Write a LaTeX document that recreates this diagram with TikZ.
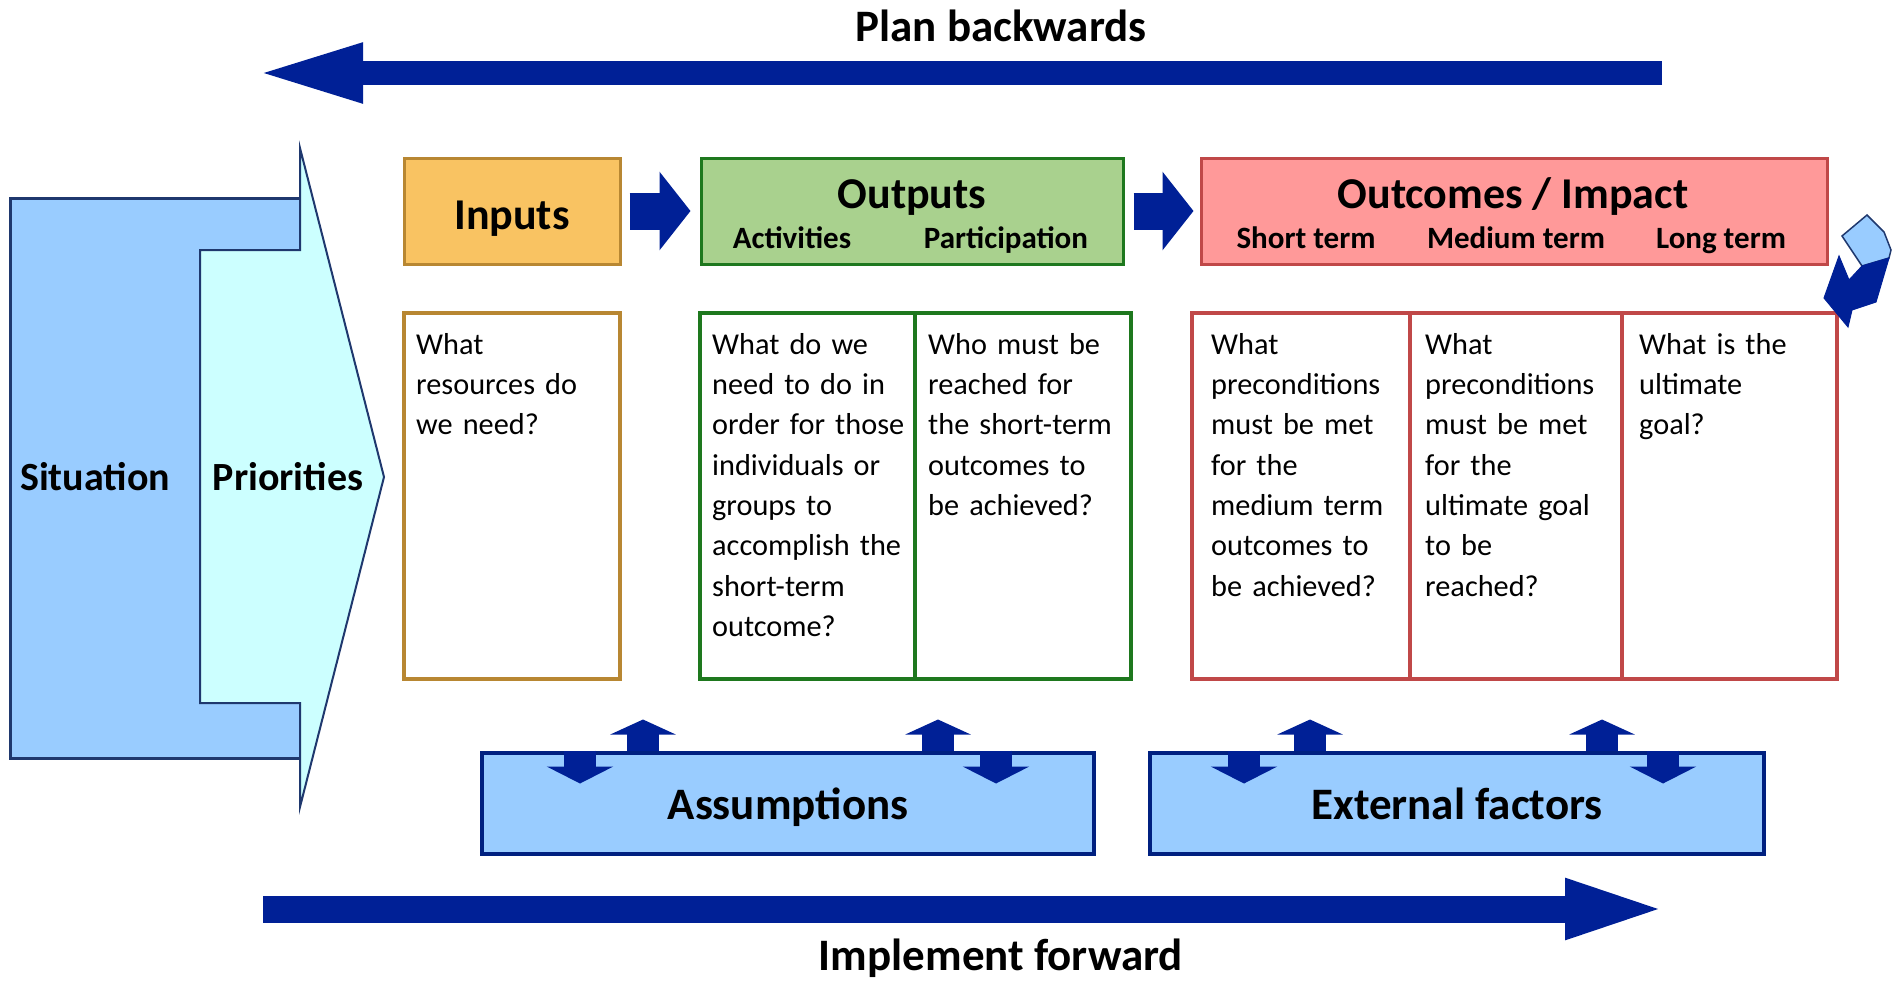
\documentclass[tikz,border=0pt]{standalone}
\usepackage{fontspec}
\setmainfont{Carlito}
\usepackage{xcolor}
\usetikzlibrary{arrows.meta}
\definecolor{situation}{RGB}{153,204,255}
\definecolor{priorities}{RGB}{204,255,255}
\definecolor{framedark}{RGB}{31,56,110}
\definecolor{darkarrow}{RGB}{0,32,150}
\definecolor{inputfill}{RGB}{249,195,98}
\definecolor{inputline}{RGB}{184,135,50}
\definecolor{outputfill}{RGB}{169,209,142}
\definecolor{outputline}{RGB}{30,120,30}
\definecolor{outcomefill}{RGB}{255,153,153}
\definecolor{outcomeline}{RGB}{192,72,72}
\definecolor{context}{RGB}{153,204,255}
\definecolor{contextline}{RGB}{0,32,128}
\newcommand{\HeadFont}{\fontsize{44}{50}\selectfont\bfseries}
\newcommand{\BigFont}{\fontsize{45}{50}\selectfont\bfseries}
\newcommand{\SubFont}{\fontsize{31}{34}\selectfont\bfseries}
\newcommand{\QFont}{\fontsize{30.3}{40.3}\selectfont}
\tikzstyle{header}=[draw, line width=3pt, minimum height=106pt, inner sep=0pt]
\tikzstyle{question}=[draw, line width=4pt, minimum height=366pt, inner sep=0pt]
\tikzstyle{qtext}=[anchor=north west, align=left, inner sep=0pt, text width=200pt, font=\QFont]
\tikzstyle{context}=[draw=contextline, line width=4pt, fill=context, minimum width=612pt, minimum height=101pt, font=\BigFont, text height=33pt, text depth=0pt]
\tikzstyle{sidelabel}=[font=\fontsize{40}{44}\selectfont\bfseries]
\tikzstyle{title}=[anchor=base, font=\HeadFont]
\tikzstyle{subtitle}=[anchor=base, font=\SubFont]
\tikzstyle{bigarrow}=[darkarrow, line width=30pt]
\tikzstyle{smallup}=[darkarrow, line width=32pt, -{Triangle[length=15pt,width=65pt]}]
\tikzstyle{smalldown}=[darkarrow, line width=32pt, -{Triangle[length=17pt,width=66pt]}]

\begin{document}
\begin{tikzpicture}[x=1pt,y=-1pt]
  \useasboundingbox (0,0) rectangle (1902,993);

  %% Situation and priorities
  \draw[line width=3pt, draw=framedark, fill=situation] (10,198) rectangle (300,758);
  \draw[line width=2pt, draw=framedark, fill=priorities] (200,250) -- (300,250) -- (300,148) -- (384,477) -- (300,807) -- (300,703) -- (200,703) -- cycle;
  \draw (95,477) node[sidelabel] (Situation) {Situation};
  \draw (288,477) node[sidelabel] (Priorities) {Priorities};

  %% Headers
  \draw (512,211) node[header, minimum width=216pt, draw=inputline, fill=inputfill] (Inputs) {};
  \draw (912,211) node[header, minimum width=422pt, draw=outputline, fill=outputfill] (Outputs) {};
  \draw (1514,211) node[header, minimum width=626pt, draw=outcomeline, fill=outcomefill] (Outcomes) {};

  \draw (512,229) node[title] (InputsTitle) {Inputs};
  \draw (912,208) node[title] (OutputsTitle) {Outputs};
  \draw (792,248) node[subtitle] (Activities) {Activities};
  \draw (1006,248) node[subtitle] (Participation) {Participation};
  \draw (1513,208) node[title] (OutcomesTitle) {Outcomes / Impact};
  \draw (1306,248) node[subtitle] (ShortTerm) {Short term};
  \draw (1516,248) node[subtitle] (MediumTerm) {Medium term};
  \draw (1721,248) node[subtitle] (LongTerm) {Long term};

  \draw[bigarrow, line width=37pt, -{Triangle[length=31pt,width=77pt]}, shorten <=8pt, shorten >=9pt] (Inputs.east) -- (Outputs.west);
  \draw[bigarrow, line width=37pt, -{Triangle[length=31pt,width=77pt]}, shorten <=9pt, shorten >=6pt] (Outputs.east) -- (Outcomes.west);

  %% Questions
  \draw (512,496) node[question, minimum width=216pt, draw=inputline] (InputsQ) {};
  \draw (807.5,496) node[question, minimum width=215pt, draw=outputline] (ActivitiesQ) {};
  \draw (1023,496) node[question, minimum width=216pt, draw=outputline] (ParticipationQ) {};
  \draw (1301,496) node[question, minimum width=218pt, draw=outcomeline] (ShortQ) {};
  \draw (1516,496) node[question, minimum width=212pt, draw=outcomeline] (MediumQ) {};
  \draw (1729.5,496) node[question, minimum width=215pt, draw=outcomeline] (LongQ) {};

  \draw (416,333) node[qtext] (InputsText) {What\\resources do\\we need?};
  \draw (712,333) node[qtext] (ActivitiesText) {What do we\\need to do in\\order for those\\individuals or\\groups to\\accomplish the\\short-term\\outcome?};
  \draw (928,333) node[qtext] (ParticipationText) {Who must be\\reached for\\the short-term\\outcomes to\\be achieved?};
  \draw (1211,333) node[qtext] (ShortText) {What\\preconditions\\must be met\\for the\\medium term\\outcomes to\\be achieved?};
  \draw (1425,333) node[qtext] (MediumText) {What\\preconditions\\must be met\\for the\\ultimate goal\\to be\\reached?};
  \draw (1639,333) node[qtext] (LongText) {What is the\\ultimate\\goal?};

  %% Loop back arrow
  \draw[line width=1.5pt, draw=framedark, fill=situation] (1862,266) -- (1842,236) -- (1867,215) -- (1884,232) -- (1891,250) -- (1889,258) -- cycle;
  \draw[line width=1pt, draw=darkarrow, fill=darkarrow] (1839,256) -- (1849,280) -- (1862,266) -- (1889,258) -- (1876,302) -- (1852,310) -- (1848,327) -- (1824,298) -- cycle;

  %% Assumptions and external factors
  \draw (788,803) node[context] (Assumptions) {Assumptions};
  \draw (1457,803) node[context, minimum width=614pt] (External) {External factors};

  \draw[smallup] ([xshift=163pt]Assumptions.north west) -- ++(0,-31);
  \draw[smalldown] ([xshift=100pt]Assumptions.north west) -- ++(0,33);
  \draw[smallup] ([xshift=458pt]Assumptions.north west) -- ++(0,-31);
  \draw[smalldown] ([xshift=516pt]Assumptions.north west) -- ++(0,33);
  \draw[smallup] ([xshift=162pt]External.north west) -- ++(0,-31);
  \draw[smalldown] ([xshift=96pt]External.north west) -- ++(0,33);
  \draw[smallup] ([xshift=454pt]External.north west) -- ++(0,-31);
  \draw[smalldown] ([xshift=515pt]External.north west) -- ++(0,33);

  %% Legend things
  \coordinate (PlanStart) at (1662,73);
  \coordinate (PlanEnd) at (253,73);
  \coordinate (DoStart) at (263,909);
  \coordinate (DoEnd) at (1674,909);
  \draw[bigarrow, line width=24pt, -{Triangle[length=110pt,width=53pt]}] (PlanStart) -- (PlanEnd);
  \draw[bigarrow, line width=27pt, -{Triangle[length=109pt,width=52pt]}] (DoStart) -- (DoEnd);
  \draw (1001,26) node[font=\BigFont] (PlanLabel) {Plan backwards};
  \draw (1001,958) node[font=\BigFont] (DoLabel) {Implement forward};
\end{tikzpicture}
\end{document}
